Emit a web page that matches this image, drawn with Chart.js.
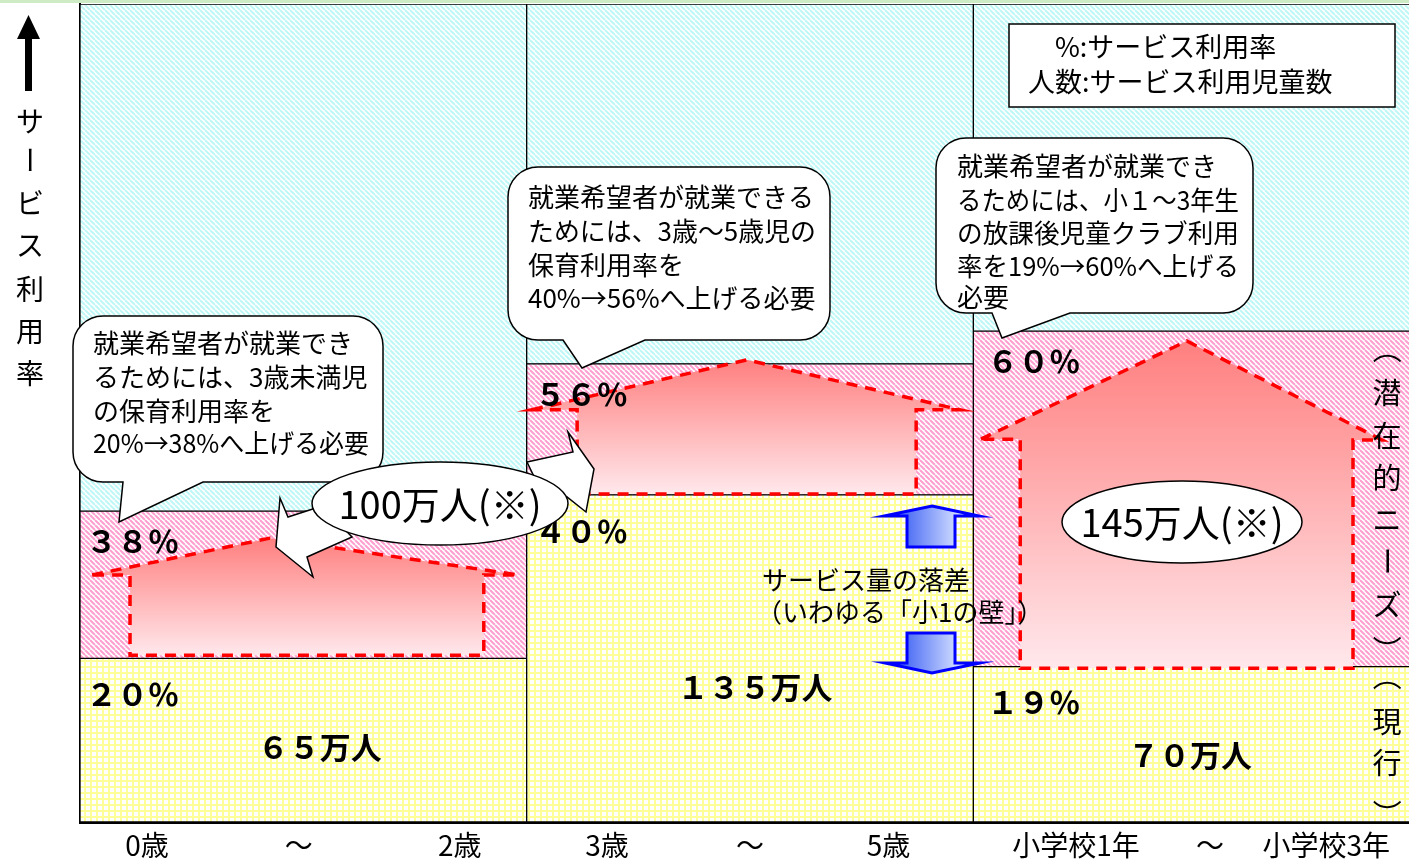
<!DOCTYPE html>
<html><head><meta charset="utf-8">
<script src="https://cdn.jsdelivr.net/npm/chart.js@4.4.1/dist/chart.umd.min.js"></script>
<style>
html,body{margin:0;padding:0;overflow:hidden;background:#fff;}
#wrap{position:relative;width:1420px;height:861px;}
</style></head><body>
<div id="wrap"><canvas id="c"></canvas></div>
<script>
// ---- data ----
const categories = ['0～2歳', '3～5歳', '小学校1～3年'];
const xTickLabels = ['0歳', '～', '2歳', '3歳', '～', '5歳', '小学校1年', '～', '小学校3年'];
const xTickPos = [0.15, 0.49, 0.85, 1.18, 1.50, 1.81, 2.23, 2.53, 2.79];
const currentRate = [20, 40, 19];        // 現行 利用率 (%)
const latentNeedRate = [18, 16, 41];     // 潜在的ニーズ (上乗せ分 %)
const restRate = [62, 44, 40];           // 残り
const targetRate = [38, 56, 60];         // 目標 利用率 (%)
const currentChildren = [65, 135, 70];   // 万人
const extraChildren = [100, 145];        // 万人(※)
const yTitle = ['サ', 'ー', 'ビ', 'ス', '利', '用', '率'];
const legendLines = ['%:サービス利用率', '人数:サービス利用児童数'];
const bubbleTexts = [
  ['就業希望者が就業でき', 'るためには、3歳未満児', 'の保育利用率を', '20%→38%へ上げる必要'],
  ['就業希望者が就業できる', 'ためには、3歳～5歳児の', '保育利用率を', '40%→56%へ上げる必要'],
  ['就業希望者が就業でき', 'るためには、小１～3年生', 'の放課後児童クラブ利用', '率を19%→60%へ上げる', '必要']
];
const gapText = ['サービス量の落差', '（いわゆる「小1の壁」）'];
const sideLatent = ['（', '潜', '在', '的', 'ニ', 'ー', 'ズ', '）'];
const sideCurrent = ['（', '現', '行', '）'];

const FONT = '"Noto Sans CJK JP", "Noto Sans", sans-serif';
const canvas = document.getElementById('c');
const mainCtx = canvas.getContext('2d');

function hatch(color, size, lw) {
  const c = document.createElement('canvas'); c.width = c.height = size;
  const g = c.getContext('2d');
  g.fillStyle = '#fff'; g.fillRect(0, 0, size, size);
  g.strokeStyle = color; g.lineWidth = lw;
  g.beginPath();
  for (let k = -1; k <= 1; k++) { g.moveTo(k * size, 0); g.lineTo(k * size + size, size); }
  g.stroke();
  return mainCtx.createPattern(c, 'repeat');
}
function gridPat() {
  const c = document.createElement('canvas'); c.width = c.height = 6;
  const g = c.getContext('2d');
  g.fillStyle = '#FFFF99'; g.fillRect(0, 0, 6, 6);
  g.fillStyle = '#fff'; g.fillRect(2, 2, 4, 4);
  return mainCtx.createPattern(c, 'repeat');
}
const yellowPat = gridPat();
const pinkPat = hatch('#FF9FCF', 5, 2);
const cyanPat = hatch('#BFF7F7', 5, 2);

function toFW(n) { return String(n).replace(/[0-9]/g, d => String.fromCharCode(d.charCodeAt(0) + 0xFEE0)); }

function poly(ctx, pts) {
  ctx.beginPath(); ctx.moveTo(pts[0][0], pts[0][1]);
  for (let k = 1; k < pts.length; k++) ctx.lineTo(pts[k][0], pts[k][1]);
  ctx.closePath();
}
function bubble(ctx, x, y, w, h, r, t1, t2, tx, ty) {
  ctx.beginPath();
  ctx.moveTo(x + r, y);
  ctx.arcTo(x + w, y, x + w, y + h, r);
  ctx.arcTo(x + w, y + h, x, y + h, r);
  ctx.lineTo(t2, y + h); ctx.lineTo(tx, ty); ctx.lineTo(t1, y + h);
  ctx.arcTo(x, y + h, x, y, r);
  ctx.arcTo(x, y, x + w, y, r);
  ctx.closePath();
  ctx.fillStyle = '#fff'; ctx.fill();
  ctx.strokeStyle = '#000'; ctx.lineWidth = 1.5; ctx.stroke();
}
function vtext(ctx, chars, x, ys) {
  chars.forEach((ch, k) => {
    if ('（）ー'.includes(ch)) {
      ctx.save(); ctx.translate(x, ys[k]); ctx.rotate(Math.PI / 2); ctx.fillText(ch, 0, 0); ctx.restore();
    } else ctx.fillText(ch, x, ys[k]);
  });
}

const decor = {
  id: 'decor',
  beforeDraw(chart) {
    const ctx = chart.ctx;
    ctx.save(); ctx.fillStyle = '#CDEBC5'; ctx.fillRect(0, 0, chart.width, 3); ctx.restore();
  },
  afterDatasetsDraw(chart) {
    const ctx = chart.ctx;
    const xs = chart.scales.x, ys = chart.scales.y;
    const catW = (chart.chartArea.right - chart.chartArea.left) / categories.length;
    const X = (i, f) => xs.getPixelForValue(i) + (f - 0.5) * catW;
    const Y = v => ys.getPixelForValue(v);
    ctx.save();

    // ---- house-shaped arrows (needed increase) ----
    const houses = [
      { i: 0, eL: [0.027, 30.2], pk: [0.425, 34.7], eR: [0.981, 30.2], bL: 0.112, bR: 0.904, bot: 20.4 },
      { i: 1, eL: [0.012, 50.4], pk: [0.493, 56.5], eR: [0.970, 50.4], bL: 0.113, bR: 0.872, bot: 40.1 },
      { i: 2, eL: [0.017, 46.8], pk: [0.478, 58.8], eR: [0.915, 46.7], bL: 0.105, bR: 0.850, bot: 18.8 }
    ];
    houses.forEach(h => {
      const eLy = Y(h.eL[1]), eRy = Y(h.eR[1]);
      const pts = [
        [X(h.i, h.eL[0]), eLy], [X(h.i, h.pk[0]), Y(h.pk[1])], [X(h.i, h.eR[0]), eRy],
        [X(h.i, h.bR), eRy], [X(h.i, h.bR), Y(h.bot)], [X(h.i, h.bL), Y(h.bot)], [X(h.i, h.bL), eLy]
      ];
      const g = ctx.createLinearGradient(0, Y(h.pk[1]), 0, Y(h.bot));
      g.addColorStop(0, '#FF7F7F'); g.addColorStop(1, '#FFE8EC');
      poly(ctx, pts); ctx.fillStyle = g; ctx.fill();
      ctx.setLineDash([11, 8]); ctx.strokeStyle = '#FF0000'; ctx.lineWidth = 3.5; ctx.stroke();
      ctx.setLineDash([]);
    });

    // ---- percent labels ----
    ctx.fillStyle = '#000'; ctx.textAlign = 'left'; ctx.textBaseline = 'middle';
    ctx.font = 'bold 31px ' + FONT;
    const pctX = [6, 8, 14];
    currentRate.forEach((v, i) => ctx.fillText(toFW(v) + '％', X(i, 0) + pctX[i], Y(v) + 36));
    targetRate.forEach((v, i) => ctx.fillText(toFW(v) + '％', X(i, 0) + pctX[i], Y(v) + 30));

    // ---- children counts ----
    ctx.textAlign = 'center';
    const cntPos = [[0.537, 9.2], [0.511, 16.5], [0.485, 8.2]];
    currentChildren.forEach((n, i) => ctx.fillText(toFW(n) + '万人', X(i, cntPos[i][0]), Y(cntPos[i][1])));

    // ---- blue arrows and gap text ----
    const bg = ctx.createLinearGradient(907, 0, 958, 0);
    bg.addColorStop(0, '#5070F5'); bg.addColorStop(1, '#D2DEFF');
    ctx.lineWidth = 3; ctx.strokeStyle = '#0000FF'; ctx.fillStyle = bg;
    poly(ctx, [[932, 506], [979, 516], [955, 516], [955, 547], [907, 547], [907, 516], [884, 516]]);
    ctx.fill(); ctx.stroke();
    poly(ctx, [[907, 633], [955, 633], [955, 663], [980, 663], [932, 673], [885, 663], [907, 663]]);
    ctx.fill(); ctx.stroke();
    ctx.fillStyle = '#000'; ctx.textAlign = 'left'; ctx.font = '26px ' + FONT;
    ctx.fillText(gapText[0], 762, 580);
    ctx.fillText(gapText[1], 756, 612);

    // ---- speech bubbles ----
    const bubbles = [
      { b: [73, 316, 310, 166, 30, 123, 203, 119, 522], tx: 93, ty: [343, 377, 411, 443] },
      { b: [508, 167, 322, 173, 30, 563, 645, 582, 368], tx: 528, ty: [197, 231, 265, 298] },
      { b: [936, 138, 317, 175, 30, 992, 1070, 1002, 338], tx: 957, ty: [166, 200, 233, 266, 297] }
    ];
    bubbles.forEach((bb, k) => {
      bubble(ctx, ...bb.b);
      ctx.fillStyle = '#000'; ctx.font = '26px ' + FONT; ctx.textAlign = 'left';
      const maxW = bb.b[0] + bb.b[2] - bb.tx - 14;
      bubbleTexts[k].forEach((line, j) => ctx.fillText(line, bb.tx, bb.ty[j], maxW));
    });

    // ---- white block arrows + ellipses ----
    ctx.fillStyle = '#fff'; ctx.strokeStyle = '#000'; ctx.lineWidth = 1.5;
    poly(ctx, [[322, 506], [288, 517], [280, 498], [276, 547], [313, 577], [307, 557], [352, 537]]);
    ctx.fill(); ctx.stroke();
    poly(ctx, [[527, 462], [573, 452], [568, 432], [594, 469], [586, 512], [567, 497], [555, 520]]);
    ctx.fill(); ctx.stroke();
    const ells = [[440, 503.5, 128, 41.5], [1182, 522, 120, 41]];
    ells.forEach((e, k) => {
      ctx.beginPath(); ctx.ellipse(e[0], e[1], e[2], e[3], 0, 0, Math.PI * 2);
      ctx.fillStyle = '#fff'; ctx.fill(); ctx.strokeStyle = '#000'; ctx.lineWidth = 1.5; ctx.stroke();
      ctx.fillStyle = '#000'; ctx.textAlign = 'center'; ctx.font = '38px ' + FONT;
      ctx.fillText(extraChildren[k] + '万人(※)', e[0], e[1] + 1);
    });

    // ---- legend box ----
    ctx.fillStyle = '#fff'; ctx.fillRect(1009, 24, 386, 83);
    ctx.strokeStyle = '#000'; ctx.lineWidth = 1.5; ctx.strokeRect(1009, 24, 386, 83);
    ctx.fillStyle = '#000'; ctx.textAlign = 'left'; ctx.font = '27px ' + FONT;
    ctx.fillText(legendLines[0], 1055, 47);
    ctx.fillText(legendLines[1], 1028, 82);

    // ---- side vertical texts ----
    ctx.textAlign = 'center'; ctx.font = '29px ' + FONT;
    vtext(ctx, sideLatent, 1387, [349, 393, 436, 478, 520, 561, 605, 650]);
    vtext(ctx, sideCurrent, 1387, [676, 722, 763, 814]);
    ctx.restore();
  },
  afterDraw(chart) {
    const ctx = chart.ctx;
    ctx.save();
    ctx.fillStyle = '#000';
    ctx.fillRect(25, 37, 7, 54);
    poly(ctx, [[17, 39], [40, 39], [28.5, 15]]); ctx.fill();
    ctx.textAlign = 'center'; ctx.textBaseline = 'middle'; ctx.font = '28px ' + FONT;
    vtext(ctx, yTitle, 30, [121, 160, 203, 245, 289, 331, 373]);
    ctx.restore();
  }
};

const common = { borderColor: '#000', borderWidth: 1, borderSkipped: false, categoryPercentage: 1, barPercentage: 1, xAxisID: 'x', yAxisID: 'y' };

new Chart(canvas, {
  type: 'bar',
  data: {
    labels: categories,
    datasets: [
      { label: '現行', data: currentRate, backgroundColor: yellowPat, ...common },
      { label: '潜在的ニーズ', data: latentNeedRate, backgroundColor: pinkPat, ...common },
      { label: '残り', data: restRate, backgroundColor: cyanPat, ...common }
    ]
  },
  options: {
    responsive: true, maintainAspectRatio: false, animation: false,
    layout: { padding: { top: 4, left: 0, right: 0, bottom: 0 } },
    plugins: { legend: { display: false }, tooltip: { enabled: false } },
    scales: {
      x: { type: 'category', labels: categories, stacked: true, display: false, offset: true },
      x2: {
        type: 'linear', position: 'bottom', min: 0, max: categories.length, offset: false,
        grid: { display: false, drawTicks: false, offset: false },
        border: { display: true, color: '#000', width: 3 },
        afterBuildTicks: s => { s.ticks = xTickPos.map(v => ({ value: v })); },
        ticks: {
          color: '#000', font: { family: FONT, size: 28 }, padding: 7, autoSkip: false,
          maxRotation: 0, minRotation: 0,
          callback: (v, idx) => xTickLabels[idx]
        },
        afterFit: s => { s.height = 39; }
      },
      y: {
        stacked: true, min: 0, max: 100,
        ticks: { display: false }, grid: { display: false },
        border: { display: true, color: '#000', width: 2 },
        afterFit: s => { s.width = 80; }
      }
    }
  },
  plugins: [decor]
});
</script>
</body></html>
